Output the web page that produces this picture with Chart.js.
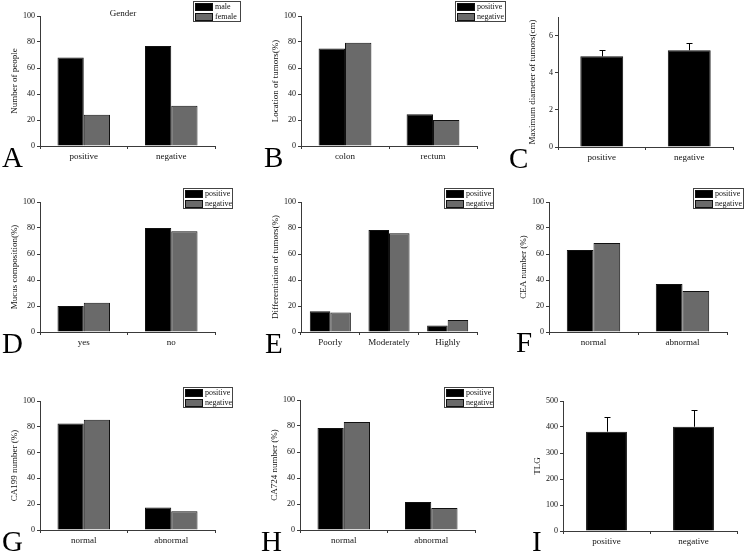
<!DOCTYPE html>
<html>
<head>
<meta charset="utf-8">
<script src="https://cdn.jsdelivr.net/npm/chart.js@4.4.1/dist/chart.umd.min.js"></script>
<style>
  html, body { margin:0; padding:0; background:#fff; }
  body { width:745px; height:552px; position:relative; overflow:hidden; font-family:"Liberation Serif", "DejaVu Serif", serif; -webkit-font-smoothing:antialiased; }
  canvas.cv { position:absolute; }
  .letter { position:absolute; font-size:29px; line-height:29px; color:#000; white-space:nowrap; }
  .legend { position:absolute; border:1px solid #444; background:#fff; box-sizing:border-box; will-change:transform; }
  .legend .sw { position:absolute; left:1px; width:18px; height:8px; box-sizing:border-box; border:1px solid #111; }
  .legend .lb { position:absolute; left:21px; font-size:8px; line-height:9px; color:#111; white-space:nowrap; }
  .ptitle { position:absolute; font-size:9px; line-height:10px; color:#111; white-space:nowrap; transform:translateX(-50%); }
</style>
</head>
<body>
<script>
// ---------- DATA ----------
const genderCategories = ['positive', 'negative'];
const genderMale = [68, 77];
const genderFemale = [24, 31];

const locationCategories = ['colon', 'rectum'];
const locationPositive = [75, 24.5];
const locationNegative = [79.5, 20];

const diameterCategories = ['positive', 'negative'];
const diameterMean = [4.88, 5.21];
const diameterError = [0.33, 0.39];

const mucusCategories = ['yes', 'no'];
const mucusPositive = [20, 80];
const mucusNegative = [22.5, 77.5];

const differentiationCategories = ['Poorly', 'Moderately', 'Highly'];
const differentiationPositive = [16, 78.5, 5];
const differentiationNegative = [15, 76, 9.2];

const ceaCategories = ['normal', 'abnormal'];
const ceaPositive = [63, 37];
const ceaNegative = [68.5, 31.5];

const ca199Categories = ['normal', 'abnormal'];
const ca199Positive = [82.5, 17.5];
const ca199Negative = [85.5, 14.5];

const ca724Categories = ['normal', 'abnormal'];
const ca724Positive = [78.5, 21.5];
const ca724Negative = [83, 17];

const tlgCategories = ['positive', 'negative'];
const tlgMean = [382, 401];
const tlgError = [58, 64];

const percentTicks = [0, 20, 40, 60, 80, 100];
const diameterTicks = [0, 2, 4, 6];
const tlgTicks = [0, 100, 200, 300, 400, 500];

// ---------- STYLE ----------
const FONT = '"Liberation Serif", "DejaVu Serif", serif';
const AXIS = '#3a3a3a';
const TEXT = '#111';
const BLACK = '#000000';
const GRAY = '#6a6a6a';

const errorBarPlugin = {
  id: 'errbars',
  afterDatasetsDraw(chart, args, opts) {
    if (!opts || !opts.errors) return;
    const meta = chart.getDatasetMeta(0);
    const ys = chart.scales.y;
    const ctx = chart.ctx;
    ctx.save();
    ctx.strokeStyle = '#000';
    ctx.lineWidth = 1;
    meta.data.forEach((bar, i) => {
      const v = chart.data.datasets[0].data[i];
      const top = Math.round(ys.getPixelForValue(v + opts.errors[i])) + 0.5;
      const x = Math.round(bar.x) + 0.5;
      ctx.beginPath();
      ctx.moveTo(x, bar.y);
      ctx.lineTo(x, top);
      ctx.moveTo(x - 3, top);
      ctx.lineTo(x + 3, top);
      ctx.stroke();
    });
    ctx.restore();
  }
};

function makePanel(g, labels, datasets, yCfg, yTitle, catPct, errors) {
  const w = g.R - g.L + 46;
  const h = g.B - g.T + 40;
  const c = document.createElement('canvas');
  c.className = 'cv';
  c.width = w; c.height = h;
  c.style.left = (g.L - 40) + 'px';
  c.style.top = (g.T - 12) + 'px';
  c.style.width = w + 'px';
  c.style.height = h + 'px';
  document.body.appendChild(c);
  const ds = datasets.map(d => ({
    data: d.data, backgroundColor: d.color, borderColor: '#111', borderWidth: 1,
    barPercentage: 1.0, categoryPercentage: catPct
  }));
  new Chart(c, {
    type: 'bar',
    data: { labels: labels, datasets: ds },
    plugins: [errorBarPlugin],
    options: {
      responsive: false, animation: false, devicePixelRatio: 1,
      layout: { padding: { top: 12, right: 6, left: 0, bottom: 0 } },
      plugins: { legend: { display: false }, tooltip: { enabled: false }, errbars: { errors: errors } },
      scales: {
        x: {
          grid: { display: true, drawOnChartArea: false, drawTicks: true, tickLength: 3, color: AXIS, offset: true },
          border: { display: true, color: AXIS, width: 1 },
          ticks: { color: TEXT, font: { family: FONT, size: 9 }, padding: 2, maxRotation: 0, autoSkip: false },
          afterFit(s) { s.height = 28; }
        },
        y: {
          min: 0, max: yCfg.max,
          afterBuildTicks(s) { s.ticks = yCfg.ticks.map(v => ({ value: v })); },
          grid: { display: true, drawOnChartArea: false, drawTicks: true, tickLength: 3, color: AXIS },
          border: { display: true, color: AXIS, width: 1 },
          ticks: { color: TEXT, font: { family: FONT, size: 8 }, padding: 2 },
          title: { display: true, text: yTitle, color: TEXT, font: { family: FONT, size: 9 }, padding: { top: 9, bottom: 0 } },
          afterFit(s) { s.width = 40; }
        }
      }
    }
  });
}

function addLetter(t, x, baseline) {
  const d = document.createElement('div');
  d.className = 'letter';
  d.textContent = t;
  d.style.left = x + 'px';
  d.style.top = (baseline - 24) + 'px';
  document.body.appendChild(d);
}

function addLegend(x, y, w, h, names, colors) {
  const d = document.createElement('div');
  d.className = 'legend';
  d.style.left = x + 'px'; d.style.top = y + 'px';
  d.style.width = w + 'px'; d.style.height = h + 'px';
  names.forEach((n, i) => {
    const s = document.createElement('div');
    s.className = 'sw';
    s.style.top = (1 + i * 10) + 'px';
    s.style.background = colors[i];
    d.appendChild(s);
    const l = document.createElement('div');
    l.className = 'lb';
    l.style.top = (0 + i * 10) + 'px';
    l.textContent = n;
    d.appendChild(l);
  });
  document.body.appendChild(d);
}

const pct = { max: 100, ticks: percentTicks };

// Row 1
makePanel({ L: 40, T: 16, R: 215, B: 146 }, genderCategories,
  [{ data: genderMale, color: BLACK }, { data: genderFemale, color: GRAY }], pct, 'Number of people', 0.6);
makePanel({ L: 301, T: 16, R: 477, B: 146 }, locationCategories,
  [{ data: locationPositive, color: BLACK }, { data: locationNegative, color: GRAY }], pct, 'Location of tumors(%)', 0.6);
makePanel({ L: 558, T: 17, R: 733, B: 147 }, diameterCategories,
  [{ data: diameterMean, color: BLACK }], { max: 7, ticks: diameterTicks }, 'Maximum diameter of tumors(cm)', 0.49, diameterError);

// Row 2
makePanel({ L: 40, T: 202, R: 215, B: 332 }, mucusCategories,
  [{ data: mucusPositive, color: BLACK }, { data: mucusNegative, color: GRAY }], pct, 'Mucus composition(%)', 0.6);
makePanel({ L: 301, T: 202, R: 477, B: 332 }, differentiationCategories,
  [{ data: differentiationPositive, color: BLACK }, { data: differentiationNegative, color: GRAY }], pct, 'Differentiation of tumors(%)', 0.7);
makePanel({ L: 549, T: 202, R: 727, B: 332 }, ceaCategories,
  [{ data: ceaPositive, color: BLACK }, { data: ceaNegative, color: GRAY }], pct, 'CEA number (%)', 0.6);

// Row 3
makePanel({ L: 40, T: 401, R: 215, B: 530 }, ca199Categories,
  [{ data: ca199Positive, color: BLACK }, { data: ca199Negative, color: GRAY }], pct, 'CA199 number (%)', 0.6);
makePanel({ L: 300, T: 400, R: 475, B: 530 }, ca724Categories,
  [{ data: ca724Positive, color: BLACK }, { data: ca724Negative, color: GRAY }], pct, 'CA724 number (%)', 0.6);
makePanel({ L: 563, T: 401, R: 737, B: 531 }, tlgCategories,
  [{ data: tlgMean, color: BLACK }], { max: 500, ticks: tlgTicks }, 'TLG', 0.47, tlgError);

// Legends
addLegend(193, 1, 48, 21, ['male', 'female'], [BLACK, GRAY]);
addLegend(455, 1, 51, 21, ['positive', 'negative'], [BLACK, GRAY]);
addLegend(183, 188, 50, 21, ['positive', 'negative'], [BLACK, GRAY]);
addLegend(444, 188, 50, 21, ['positive', 'negative'], [BLACK, GRAY]);
addLegend(693, 188, 51, 21, ['positive', 'negative'], [BLACK, GRAY]);
addLegend(183, 387, 50, 21, ['positive', 'negative'], [BLACK, GRAY]);
addLegend(444, 387, 50, 21, ['positive', 'negative'], [BLACK, GRAY]);

// Panel title
const gt = document.createElement('div');
gt.className = 'ptitle';
gt.textContent = 'Gender';
gt.style.left = '123px';
gt.style.top = '8px';
document.body.appendChild(gt);

// Panel letters
addLetter('A', 2, 167);
addLetter('B', 264, 167);
addLetter('C', 509, 168);
addLetter('D', 2, 353);
addLetter('E', 265, 353);
addLetter('F', 516, 352);
addLetter('G', 2, 551);
addLetter('H', 261, 551);
addLetter('I', 532, 551);
</script>
</body>
</html>
